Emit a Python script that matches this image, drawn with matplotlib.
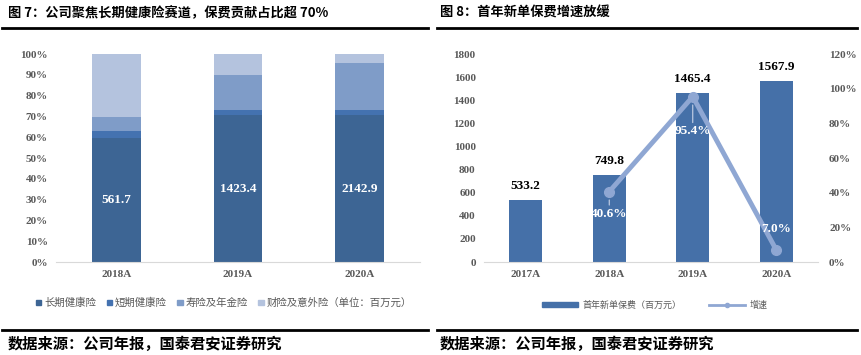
import matplotlib
matplotlib.use("Agg")
import matplotlib.pyplot as plt
import numpy as np
from matplotlib.lines import Line2D
from matplotlib.patches import Patch

plt.rcParams['font.family'] = ['Noto Sans CJK SC', 'DejaVu Sans']

# ---- figure 7 data (share of premiums, %) ----
years7 = ['2018A', '2019A', '2020A']
long_health = [59.7, 70.6, 70.6]
short_health = [3.4, 2.4, 2.4]
life_annuity = [6.6, 17.0, 22.8]
pc_accident = [30.3, 10.0, 4.2]
long_labels = ['561.7', '1423.4', '2142.9']
names7 = ['长期健康险', '短期健康险', '寿险及年金险', '财险及意外险（单位：百万元）']

# ---- figure 8 data ----
years8 = ['2017A', '2018A', '2019A', '2020A']
new_premium = [533.2, 749.8, 1465.4, 1567.9]
growth = [None, 40.6, 95.4, 7.0]

c_long = '#3D6594'
c_short = '#4472B0'
c_life = '#7F9CC8'
c_pc = '#B4C3DE'
c_bar8 = '#4570A8'
c_line = '#8FA7D3'
grey = '#595959'
num_font = 'Liberation Serif'

fig = plt.figure(figsize=(8.62, 3.55), dpi=100)

# titles and rules
fig.text(8/862, 1-13/355, '图 7：公司聚焦长期健康险赛道，保费贡献占比超 70%', fontsize=9.5,
         fontweight='bold', va='center', ha='left')
fig.text(440/862, 1-13/355, '图 8：首年新单保费增速放缓', fontsize=9.5,
         fontweight='bold', va='center', ha='left')
for x0, x1 in [(2, 428), (437, 857)]:
    fig.add_artist(Line2D([x0/862, x1/862], [1-28/355]*2, color='black', lw=2))
    fig.add_artist(Line2D([x0/862, x1/862], [1-330/355]*2, color='black', lw=2))
fig.text(8/862, 1-344/355, '数据来源：公司年报，国泰君安证券研究', fontsize=11,
         fontweight='bold', va='center', ha='left')
fig.text(440/862, 1-344/355, '数据来源：公司年报，国泰君安证券研究', fontsize=11,
         fontweight='bold', va='center', ha='left')

# ---- left chart ----
ax1 = fig.add_axes([56/862, 1-262/355, 364/862, 208/355])
x7 = np.arange(len(years7))
w = 0.4
ax1.bar(x7, long_health, w, color=c_long)
bottom = np.array(long_health)
ax1.bar(x7, short_health, w, bottom=bottom, color=c_short)
bottom = bottom + np.array(short_health)
ax1.bar(x7, life_annuity, w, bottom=bottom, color=c_life)
bottom = bottom + np.array(life_annuity)
ax1.bar(x7, pc_accident, w, bottom=bottom, color=c_pc)
for i, lab in enumerate(long_labels):
    ax1.text(x7[i], long_health[i] / 2, lab, color='white', fontsize=9.5, fontweight='bold',
             ha='center', va='center', family=num_font)
ax1.set_xlim(-0.5, 2.5)
ax1.set_ylim(0, 100)
ax1.set_yticks(np.arange(0, 101, 10))
ax1.set_yticklabels([f'{v}%' for v in range(0, 101, 10)])
ax1.set_xticks(x7)
ax1.set_xticklabels(years7)
for s in ['top', 'right', 'left']:
    ax1.spines[s].set_visible(False)
ax1.spines['bottom'].set_color('#D9D9D9')
ax1.tick_params(length=0, labelsize=8, labelcolor=grey, pad=6)
for t in ax1.get_xticklabels() + ax1.get_yticklabels():
    t.set_fontweight('bold')
    t.set_family(num_font)
handles7 = [Patch(color=c) for c in [c_long, c_short, c_life, c_pc]]
fig.legend(handles7, names7, loc='center', bbox_to_anchor=(224/862, 1-303/355), ncol=4,
           frameon=False, fontsize=7.5, handlelength=0.5, handleheight=0.5,
           columnspacing=1.0, handletextpad=0.3, labelcolor=grey)

# ---- right chart ----
ax2 = fig.add_axes([484/862, 1-262/355, 334/862, 208/355])
x8 = np.arange(len(years8))
ax2.bar(x8, new_premium, w, color=c_bar8)
for i, v in enumerate(new_premium):
    ax2.text(x8[i], v + 70, f'{v:.1f}', ha='center', va='bottom', fontsize=9.5,
             fontweight='bold', family=num_font)
ax2.set_xlim(-0.5, 3.5)
ax2.set_ylim(0, 1800)
ax2.set_yticks(np.arange(0, 1801, 200))
ax2.set_xticks(x8)
ax2.set_xticklabels(years8)
for s in ['top', 'right', 'left']:
    ax2.spines[s].set_visible(False)
ax2.spines['bottom'].set_color('#D9D9D9')
ax2.tick_params(length=0, labelsize=8, labelcolor=grey, pad=6)
for t in ax2.get_xticklabels() + ax2.get_yticklabels():
    t.set_fontweight('bold')
    t.set_family(num_font)

ax3 = ax2.twinx()
gx = [x8[i] for i in range(len(growth)) if growth[i] is not None]
gy = [g for g in growth if g is not None]
ax3.plot(gx, gy, color=c_line, lw=3.5, marker='o', markersize=7, zorder=3)
ax3.set_ylim(0, 120)
ax3.set_yticks(np.arange(0, 121, 20))
ax3.set_yticklabels([f'{v}%' for v in range(0, 121, 20)])
for s in ['top', 'right', 'left', 'bottom']:
    ax3.spines[s].set_visible(False)
ax3.tick_params(length=0, labelsize=8, labelcolor=grey, pad=8)
for t in ax3.get_yticklabels():
    t.set_fontweight('bold')
    t.set_family(num_font)
offsets = [(0, -16), (0, -25), (0, 15)]
for (xx, yy), off in zip(zip(gx, gy), offsets):
    arrow = dict(arrowstyle='-', color='#C8D3E8', lw=0.8, shrinkA=0, shrinkB=6) if off[1] < 0 else None
    ax3.annotate(f'{yy:.1f}%', (xx, yy), xytext=off, textcoords='offset points',
                 ha='center', va='center', color='white', fontsize=9.5, fontweight='bold',
                 family=num_font, arrowprops=arrow)

handles8 = [Patch(color=c_bar8),
            Line2D([0], [0], color=c_line, lw=2, marker='o', markersize=3)]
fig.legend(handles8, ['首年新单保费（百万元）', '增速'], loc='center',
           bbox_to_anchor=(655/862, 1-305/355), ncol=2, frameon=False, fontsize=6.5,
           handlelength=4, handleheight=0.35, columnspacing=3, handletextpad=0.5,
           labelcolor=grey)

fig.savefig('out.png', dpi=100)
